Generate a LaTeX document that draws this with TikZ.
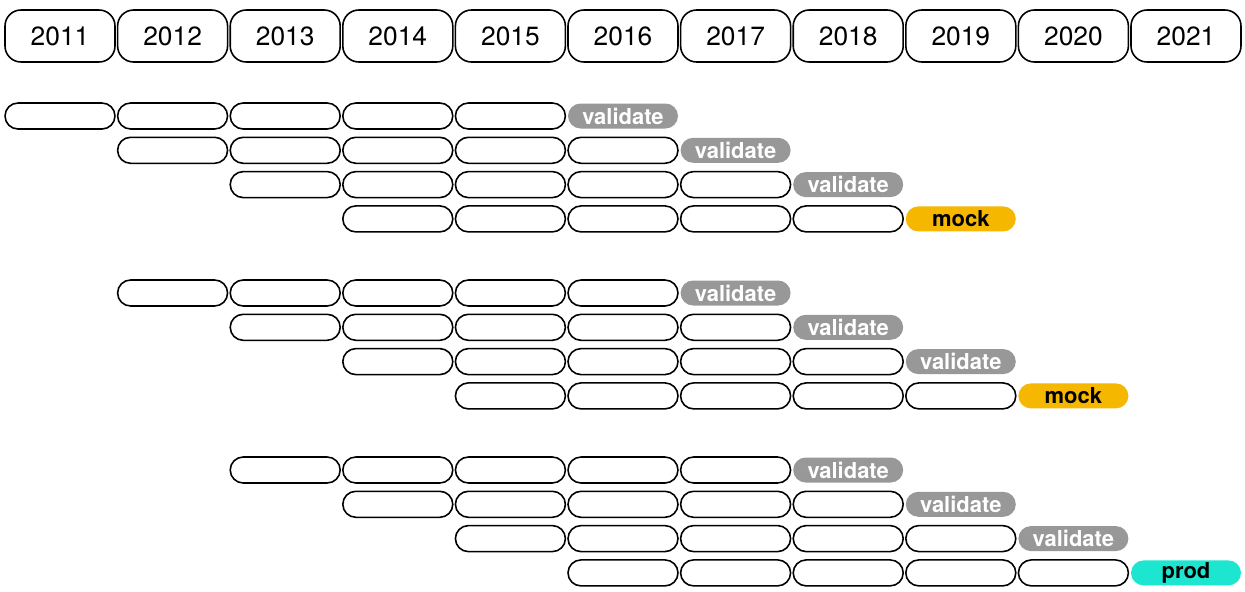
\documentclass[tikz,border=0pt]{standalone}
\usepackage{fontspec}
\setmainfont{TeX Gyre Heros}
\usetikzlibrary{%
  shapes.misc,% wg. rounded rectangle
  positioning%
}
\definecolor{tagGray}{RGB}{152,152,152}
\definecolor{mockOrange}{RGB}{245,183,0}
\definecolor{prodTeal}{RGB}{28,230,208}

\begin{document}
\begin{tikzpicture}[
  x=0.02cm, y=-0.02cm,
  line width=0.9pt,
  year/.style={rectangle, rounded corners=0.32cm, draw=black, minimum width=2.2cm, minimum height=1.04cm, inner sep=0pt, font=\fontsize{15}{18}\selectfont},
  task/.style={rounded rectangle, draw=black, minimum width=2.2cm, minimum height=0.52cm, inner sep=0pt},
  tag/.style={rounded rectangle, minimum width=2.2cm, minimum height=0.5cm, inner sep=0pt, font=\bfseries\fontsize{12.5}{14}\selectfont},
  validate/.style={tag, fill=tagGray, text=white},
  mock/.style={tag, fill=mockOrange, text=black},
  prod/.style={tag, fill=prodTeal, text=black}]

\useasboundingbox (0,0) rectangle (1245,592);

\foreach \yr [count=\i from 0] in {2011,...,2021} {
  \node[year] (y\i) at (60+112.6*\i,36) {\yr};
}

\foreach \g/\s/\top/\last in {1/0/116/mock, 2/1/293/mock, 3/2/470/prod} {
  \foreach \r in {0,...,3} {
    \foreach \c in {0,...,4} {
      \node[task] (t\g\r\c) at ({60+112.6*(\s+\r+\c)},{\top+34.3*\r}) {};
    }
  }
  \foreach \r in {0,...,2} {
    \node[validate] (v\g\r) at ({60+112.6*(\s+\r+5)},{\top+34.3*\r}) {validate};
  }
  \node[\last] (f\g) at ({60+112.6*(\s+8)},{\top+34.3*3}) {\last};
}

\end{tikzpicture}
\end{document}
